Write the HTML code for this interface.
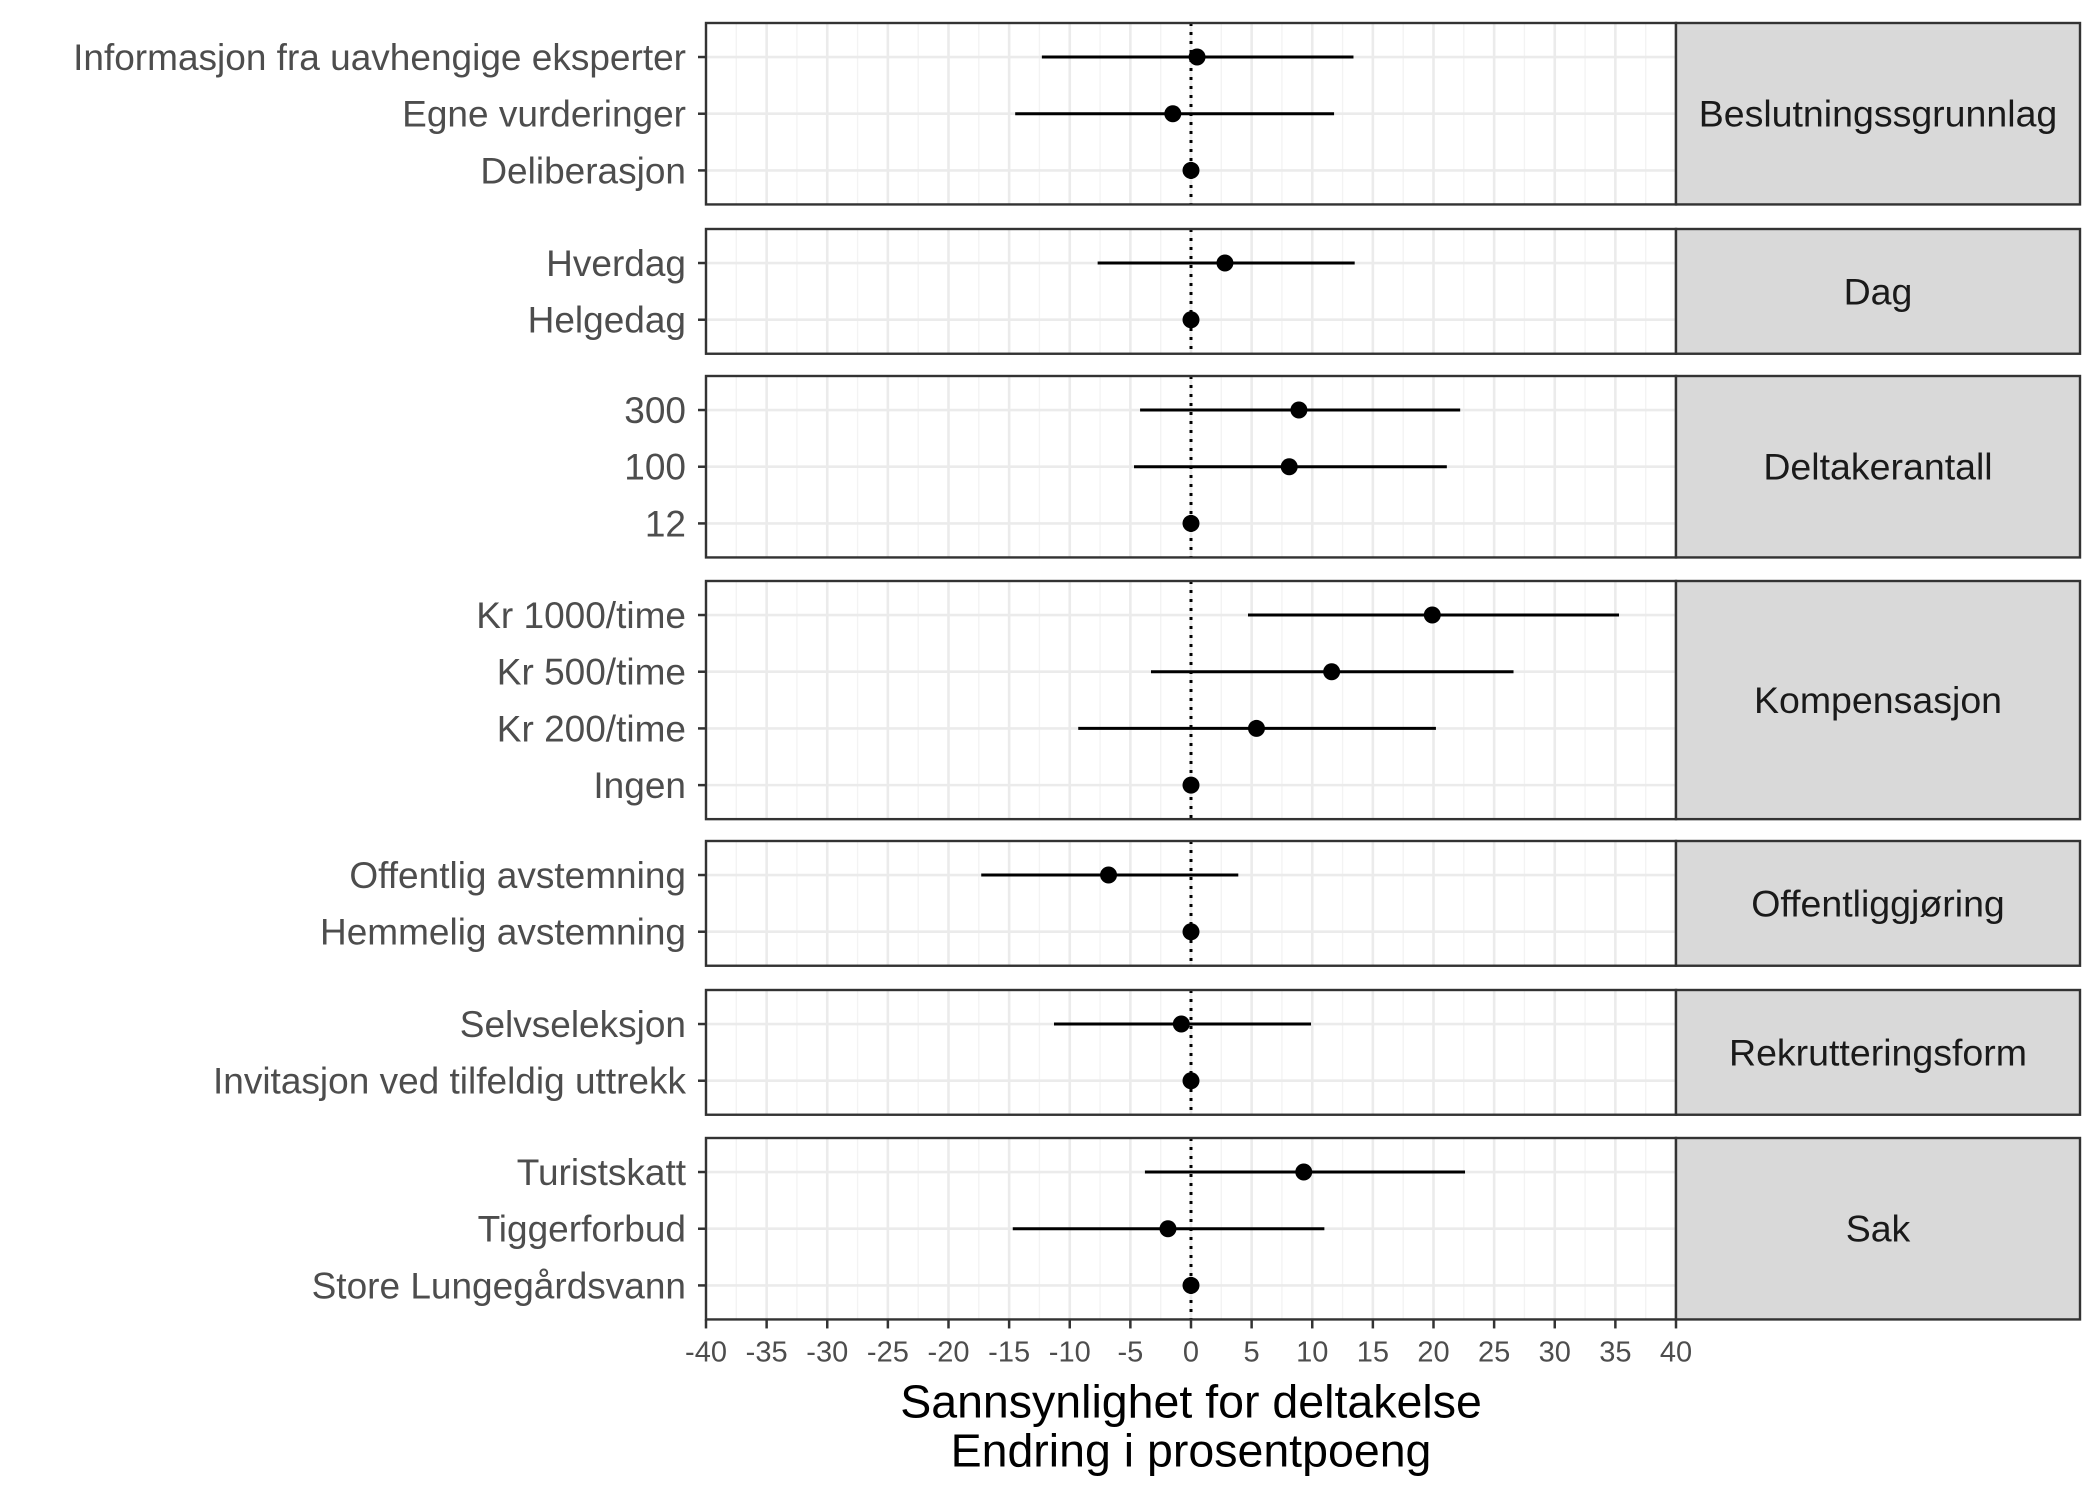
<!DOCTYPE html>
<html><head><meta charset="utf-8"><style>
html,body{margin:0;padding:0;background:#fff;}
svg{display:block;font-family:"Liberation Sans",sans-serif;}
</style></head><body>
<svg id="chart" width="2100" height="1500" viewBox="0 0 2100 1500"></svg>
<script>
const groups = ["Beslutningssgrunnlag","Dag","Deltakerantall","Kompensasjon","Offentliggjøring","Rekrutteringsform","Sak"];
const labels = [
 ["Informasjon fra uavhengige eksperter","Egne vurderinger","Deliberasjon"],
 ["Hverdag","Helgedag"],
 ["300","100","12"],
 ["Kr 1000/time","Kr 500/time","Kr 200/time","Ingen"],
 ["Offentlig avstemning","Hemmelig avstemning"],
 ["Selvseleksjon","Invitasjon ved tilfeldig uttrekk"],
 ["Turistskatt","Tiggerforbud","Store Lungegårdsvann"]
];
const estimates = [[0.5,-1.5,0],[2.8,0],[8.9,8.1,0],[19.9,11.6,5.4,0],[-6.8,0],[-0.8,0],[9.3,-1.9,0]];
const lower = [[-12.3,-14.5,0],[-7.7,0],[-4.2,-4.7,0],[4.7,-3.3,-9.3,0],[-17.3,0],[-11.3,0],[-3.8,-14.7,0]];
const upper = [[13.4,11.8,0],[13.5,0],[22.2,21.1,0],[35.3,26.6,20.2,0],[3.9,0],[9.9,0],[22.6,11.0,0]];
const xTicks = [-40,-35,-30,-25,-20,-15,-10,-5,0,5,10,15,20,25,30,35,40];

const svg = document.getElementById('chart');
const NS = "http://www.w3.org/2000/svg";
const L = 706, R = 1676, SR = 2080;
const x = v => L + (v + 40) / 80 * (R - L);
const panelTops = [23,229,376,581,841,990,1138];
const unit = 56.7;
function mk(tag, attrs, parent){ const e=document.createElementNS(NS,tag); for(const k in attrs) e.setAttribute(k,attrs[k]); (parent||svg).appendChild(e); return e; }

groups.forEach((g, gi) => {
  const n = labels[gi].length;
  const top = panelTops[gi];
  const h = (n - 1 + 1.2) * unit;
  const pg = mk('g', {});
  
  
  mk('rect', {x:L, y:top, width:R-L, height:h, fill:'#fff'}, pg);
  for (let v = -40; v <= 40; v += 2.5) {
    const major = (v % 5 === 0);
    mk('line', {x1:x(v), x2:x(v), y1:top, y2:top+h, stroke: major ? '#ebebeb' : '#f3f3f3', 'stroke-width': major ? 2.6 : 1.4}, pg);
  }
  const yRow = i => top + (0.6 + i) * unit;
  labels[gi].forEach((lab, i) => {
    const y = yRow(i);
    mk('line', {x1:L, x2:R, y1:y, y2:y, stroke:'#ebebeb', 'stroke-width':2.6}, pg);
  });
  mk('line', {x1:x(0), x2:x(0), y1:top, y2:top+h, stroke:'#000', 'stroke-width':3, 'stroke-dasharray':'3 6'}, pg);
  labels[gi].forEach((lab, i) => {
    const y = yRow(i);
    const eb = mk('line', {x1:x(lower[gi][i]), x2:x(upper[gi][i]), y1:y, y2:y, stroke:'#000', 'stroke-width':3}, pg);
    
    
    const pt = mk('circle', {cx:x(estimates[gi][i]), cy:y, r:8.5, fill:'#000'}, pg);
    
    
    mk('line', {x1:L-8, x2:L, y1:y, y2:y, stroke:'#333', 'stroke-width':2.5}, pg);
    const t = mk('text', {x:L-20, y:y+13, 'text-anchor':'end', 'font-size':37, fill:'#4d4d4d'}, pg);
    t.textContent = lab;
    
    
  });
  mk('rect', {x:L, y:top, width:R-L, height:h, fill:'none', stroke:'#333', 'stroke-width':2.4}, pg);
  const sr = mk('rect', {x:R, y:top, width:SR-R, height:h, fill:'#d9d9d9', stroke:'#333', 'stroke-width':2.4}, pg);
  
  
  const st = mk('text', {x:(R+SR)/2, y:top+h/2+13, 'text-anchor':'middle', 'font-size':37.5, fill:'#1a1a1a'}, pg);
  st.textContent = g;
  
  
});

const axisY = panelTops[6] + (2 + 1.2) * unit;
xTicks.forEach(v => {
  mk('line', {x1:x(v), x2:x(v), y1:axisY, y2:axisY+9, stroke:'#333', 'stroke-width':2.5});
  const t = mk('text', {x:x(v), y:axisY+42, 'text-anchor':'middle', 'font-size':29, fill:'#4d4d4d'});
  t.textContent = v;
  
  
});
const t1 = mk('text', {x:x(0), y:axisY+98, 'text-anchor':'middle', 'font-size':46.5, fill:'#000'});
t1.textContent = 'Sannsynlighet for deltakelse';


const t2 = mk('text', {x:x(0), y:axisY+147, 'text-anchor':'middle', 'font-size':46.5, fill:'#000'});
t2.textContent = 'Endring i prosentpoeng';


</script>
</body></html>
